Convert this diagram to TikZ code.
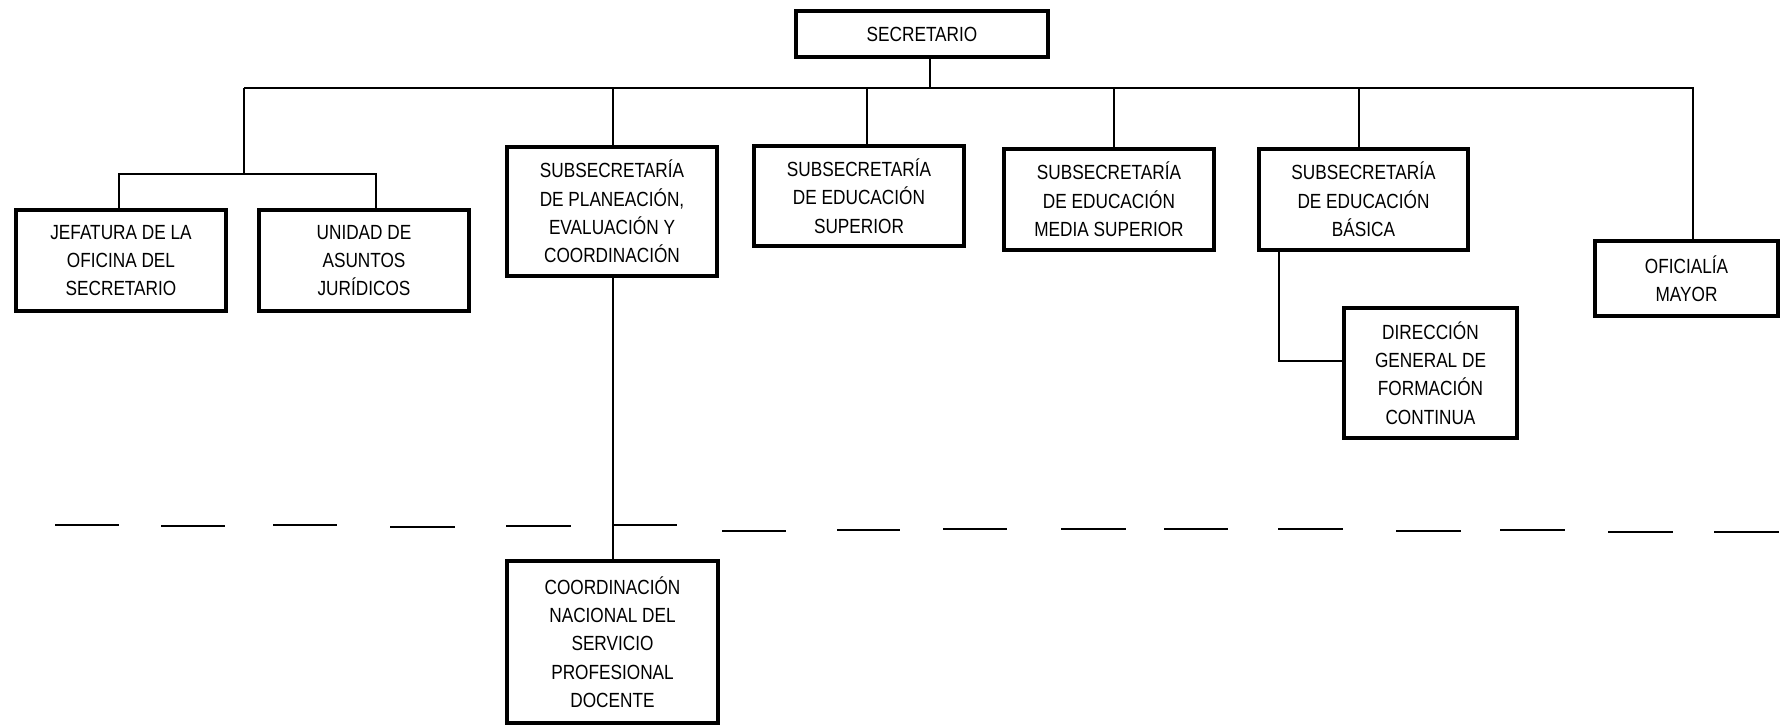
\documentclass[tikz,border=0pt]{standalone}
\usepackage{fontspec}
\setmainfont{Liberation Sans}[FakeStretch=0.84]
\begin{document}
\begin{tikzpicture}[x=1pt,y=-1pt,
  box/.style={draw=black,line width=4pt,rectangle,align=center,inner sep=0pt,
    font=\fontsize{20.5}{28.3}\selectfont},
  conn/.style={draw=black,line width=1.6pt},
  sep/.style={draw=black,line width=2.2pt}]
\useasboundingbox (0,0) rectangle (1782,726);
% boxes
\node[box,minimum width=252pt,minimum height=46pt] (sec) at (922,34) {SECRETARIO};
\node[box,minimum width=210pt,minimum height=101pt] (jef) at (121,260.5) {JEFATURA DE LA\\OFICINA DEL\\SECRETARIO};
\node[box,minimum width=210pt,minimum height=101pt] (uni) at (364,260.5) {UNIDAD DE\\ASUNTOS\\JURÍDICOS};
\node[box,minimum width=210pt,minimum height=129pt] (pla) at (612,211.5) {SUBSECRETARÍA\\DE PLANEACIÓN,\\EVALUACIÓN Y\\COORDINACIÓN};
\node[box,minimum width=210pt,minimum height=100pt] (sup) at (859,196) {SUBSECRETARÍA\\DE EDUCACIÓN\\SUPERIOR};
\node[box,minimum width=210pt,minimum height=101pt] (med) at (1109,199.5) {SUBSECRETARÍA\\DE EDUCACIÓN\\MEDIA SUPERIOR};
\node[box,minimum width=209pt,minimum height=101pt] (bas) at (1363.5,199.5) {SUBSECRETARÍA\\DE EDUCACIÓN\\BÁSICA};
\node[box,minimum width=183pt,minimum height=75pt] (ofi) at (1686.5,278.5) {OFICIALÍA\\MAYOR};
\node[box,minimum width=173pt,minimum height=130pt] (dir) at (1430.5,373) {DIRECCIÓN\\GENERAL DE\\FORMACIÓN\\CONTINUA};
\node[box,minimum width=211pt,minimum height=162pt] (cnd) at (612.5,642) {COORDINACIÓN\\NACIONAL DEL\\SERVICIO\\PROFESIONAL\\DOCENTE};
% bus coordinates
\coordinate (busL) at (244,88);
\coordinate (busR) at (1693,88);
\coordinate (lbus) at (244,174);
\coordinate (lbusL) at (119,174);
\coordinate (lbusR) at (376,174);
\coordinate (dirbend) at (1279,361);
% connectors
\draw[conn] ([xshift=8pt]sec.south) -- ([xshift=8pt]sec.south |- busL);
\draw[conn] (busL) -- (busR) -- (busR |- ofi.north);
\draw[conn] (busL) -- (lbus);
\draw[conn] (lbusL |- jef.north) -- (lbusL) -- (lbusR) -- (lbusR |- uni.north);
\draw[conn] ([xshift=1pt]pla.north) -- ([xshift=1pt]pla.north |- busL);
\draw[conn] ([xshift=8pt]sup.north) -- ([xshift=8pt]sup.north |- busL);
\draw[conn] ([xshift=5pt]med.north) -- ([xshift=5pt]med.north |- busL);
\draw[conn] ([xshift=-4.5pt]bas.north) -- ([xshift=-4.5pt]bas.north |- busL);
\draw[conn] (dirbend |- bas.south) -- (dirbend) -- (dir.west |- dirbend);
\draw[conn] ([xshift=1pt]pla.south) -- ([xshift=1pt]pla.south |- cnd.north);
% separator dashes
\foreach \a/\b/\y in {55/119/525,161/225/526,273/337/525,390/455/527,506/571/526,
  613/677/525,722/786/531,837/900/530,943/1007/529,1061/1126/529,1164/1228/529,
  1278/1343/529,1396/1461/531,1500/1565/530,1608/1673/532,1714/1779/532}
  \draw[sep] (\a,\y) -- (\b,\y);
\end{tikzpicture}
\end{document}
